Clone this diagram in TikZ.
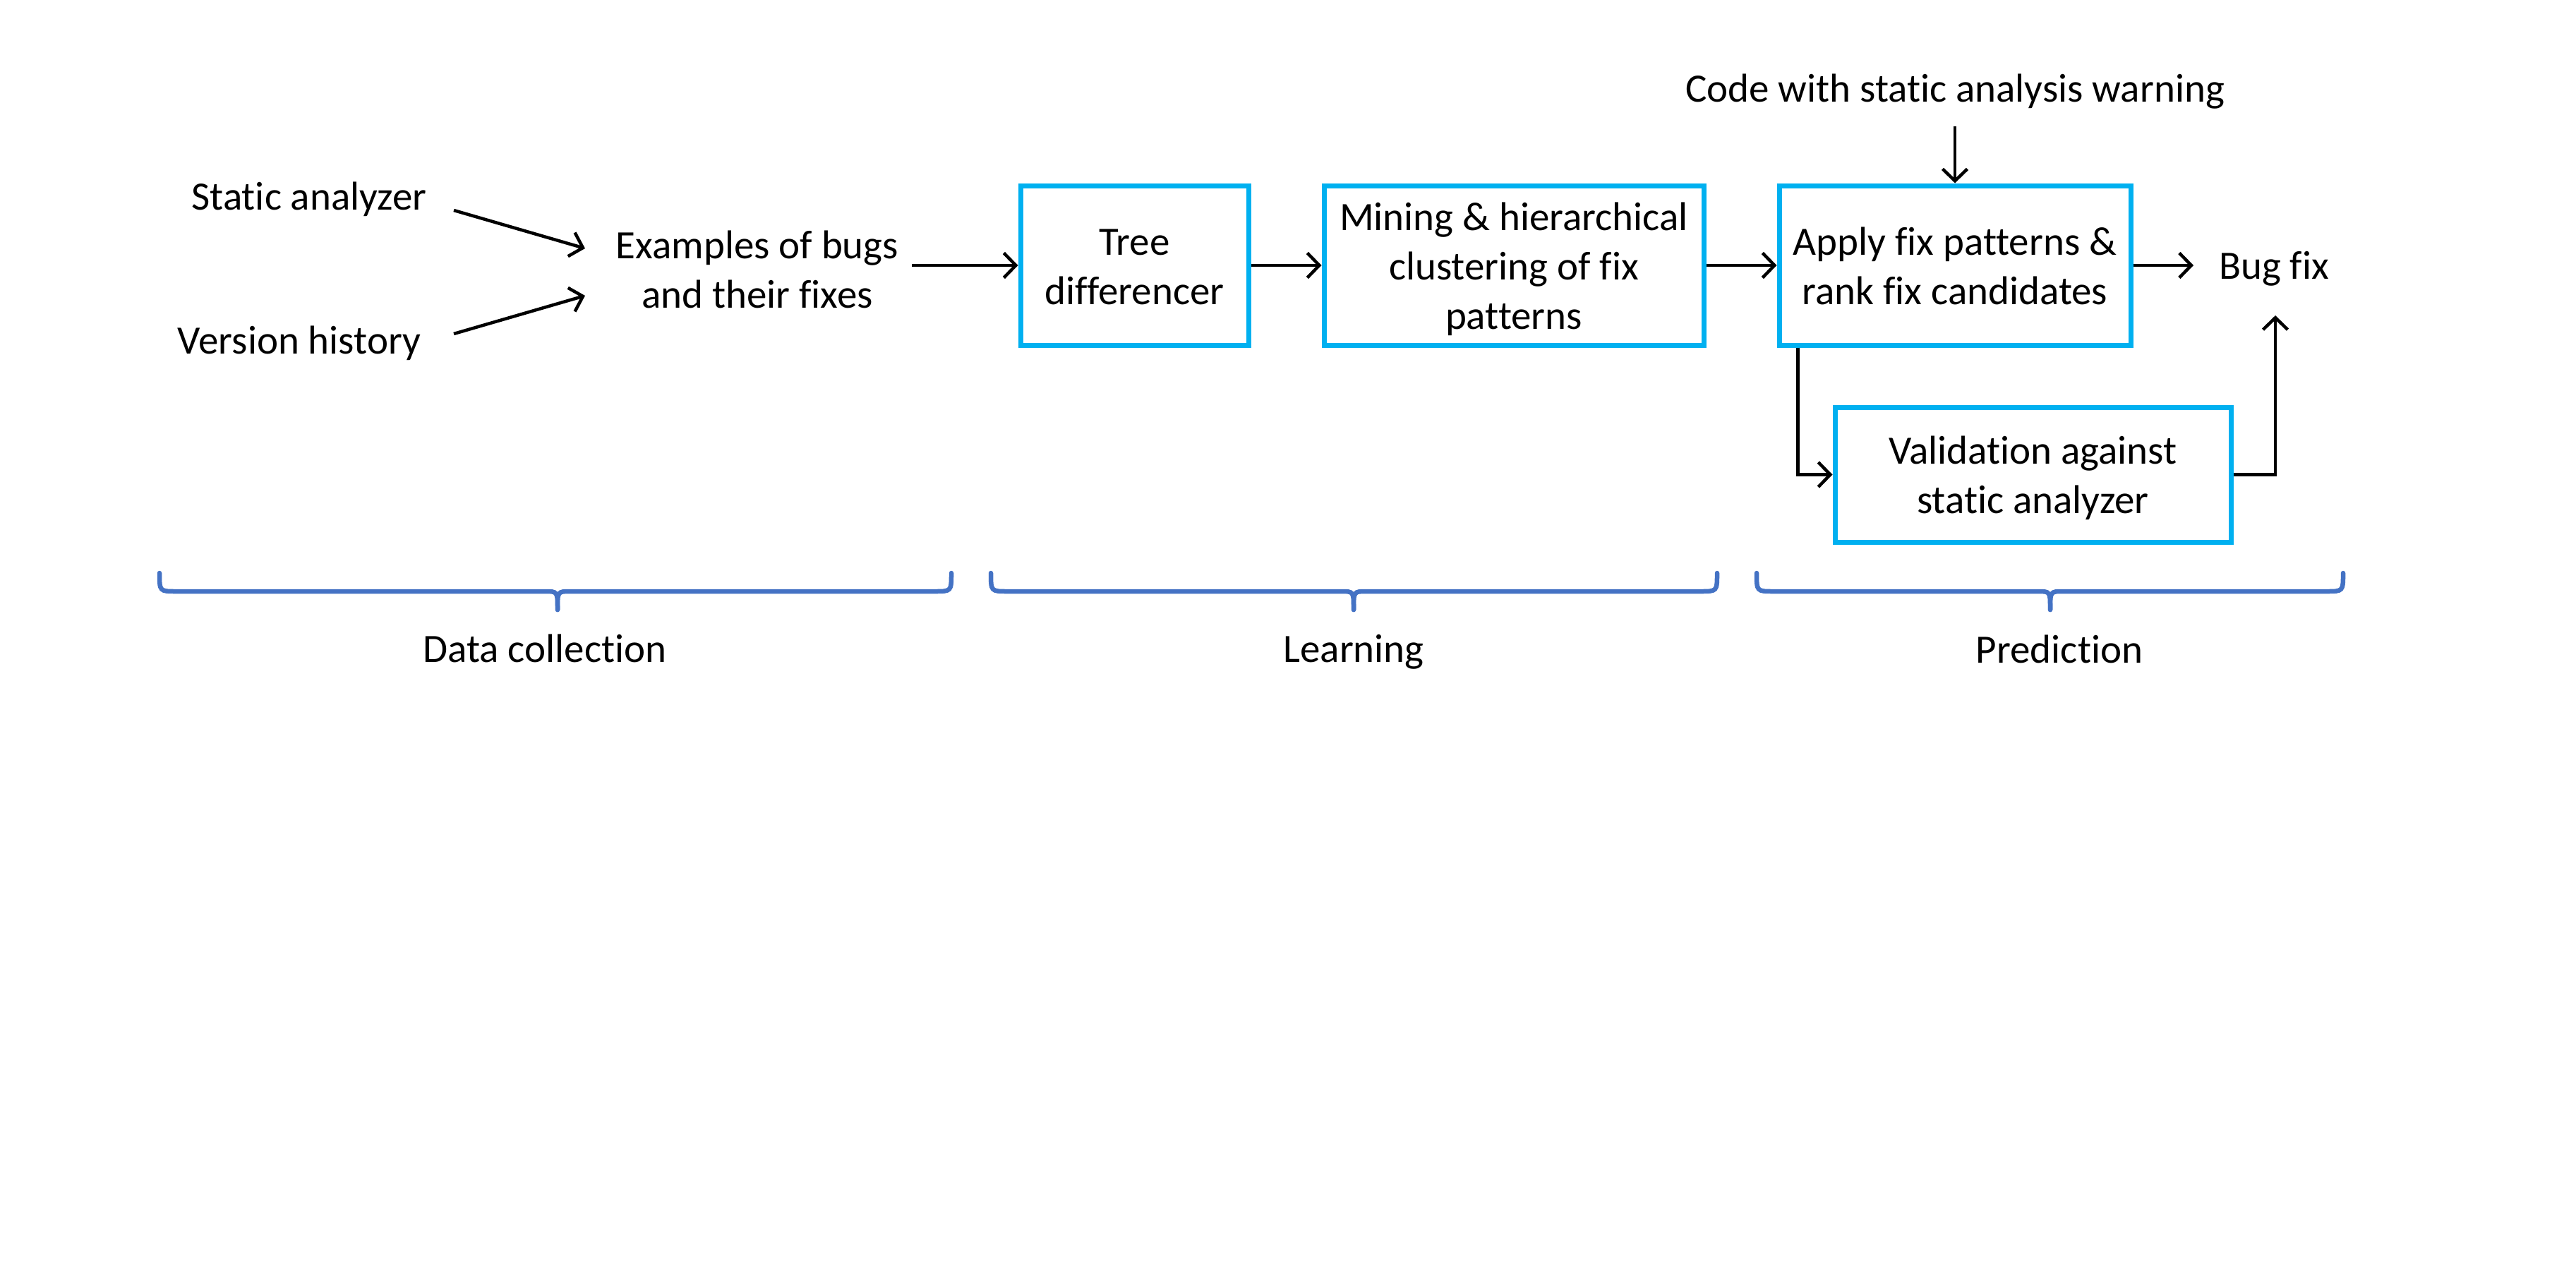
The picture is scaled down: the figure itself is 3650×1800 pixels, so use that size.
\documentclass[tikz,border=0pt]{standalone}
\usepackage{fontspec}
\setmainfont{Carlito}[Ligatures={NoCommon}]
\usetikzlibrary{arrows.meta,calc}
\definecolor{boxblue}{HTML}{00B0F0}
\definecolor{bracecol}{HTML}{4472C4}
\newcommand{\bxtxt}[1]{\raisebox{-1.2pt}[\height][\depth]{\begin{tabular}{@{}c@{}}#1\end{tabular}}}
\begin{document}
\begin{tikzpicture}[x=0.2pt,y=-0.2pt,
  every node/.style={font=\fontsize{11.4pt}{14pt}\selectfont, align=center, inner sep=0pt},
  box/.style={draw=boxblue, line width=1.4pt, minimum height=45.2pt},
  arr/.style={draw=black, line width=0.9pt, -{Straight Barb[length=3.4pt,width=7pt]}},
  brc/.style={draw=bracecol, line width=1.3pt, line cap=round}]
\useasboundingbox (0,0) rectangle (3650,1800);

% text nodes
\node (sa) at (438,282) {Static analyzer};
\node (vh) at (424,486) {Version history};
\node (ex) at (1073,382) {Examples of bugs\\and their fixes};
\node (cw) at (2770,130) {Code with static analysis warning};
\node (bf) at (3222,381) {Bug fix};

% boxes
\node[box, minimum width=64.6pt] (td) at (1607.5,376) {\bxtxt{Tree\\differencer}};
\node[box, minimum width=107.6pt] (mc) at (2145,376) {\bxtxt{Mining \& hierarchical\\clustering of fix\\patterns}};
\node[box, minimum width=99.6pt] (ap) at (2770,376) {\bxtxt{Apply fix patterns \&\\rank fix candidates}};
\node[box, minimum width=112.2pt, minimum height=38.2pt] (va) at (2880.5,672.5) {\bxtxt{Validation against\\static analyzer}};

% connectors
\draw[arr] ($(sa.center)+(205,16)$) -- ($(ex.center)+(-244,-30)$);
\draw[arr] ($(vh.center)+(219,-13)$) -- ($(ex.center)+(-244,37)$);
\coordinate (exout) at ($(ex.center)+(219,0)$);
\draw[arr] (exout |- td.west) -- (td.west);
\draw[arr] (td.east) -- (mc.west);
\draw[arr] (mc.east) -- (ap.west);
\draw[arr] ($(cw.center)+(0,49)$) -- (ap.north);
\coordinate (bfin) at ($(bf.center)+(-114,0)$);
\draw[arr] (ap.east) -- (bfin |- ap.east);
\draw[arr] ($(ap.south west)+(30,0)$) |- (va.west);
\draw[arr] (va.east) -| ($(bf.center)+(2,66)$);

% braces
\draw[brc] (226,812) .. controls (226,838) .. (250,838) -- (772,838) .. controls (790,838) .. (790,864);
\draw[brc] (790,864) .. controls (790,838) .. (808,838) -- (1324,838) .. controls (1348,838) .. (1348,812);
\draw[brc] (1404,812) .. controls (1404,838) .. (1428,838) -- (1900,838) .. controls (1918,838) .. (1918,864);
\draw[brc] (1918,864) .. controls (1918,838) .. (1936,838) -- (2409,838) .. controls (2433,838) .. (2433,812);
\draw[brc] (2489,812) .. controls (2489,838) .. (2513,838) -- (2887,838) .. controls (2905,838) .. (2905,864);
\draw[brc] (2905,864) .. controls (2905,838) .. (2923,838) -- (3296,838) .. controls (3320,838) .. (3320,812);

% brace labels
\node (dc) at (772,919) {Data collection};
\node (le) at (1918,924) {Learning};
\node (pr) at (2918,920) {Prediction};
\end{tikzpicture}
\end{document}
